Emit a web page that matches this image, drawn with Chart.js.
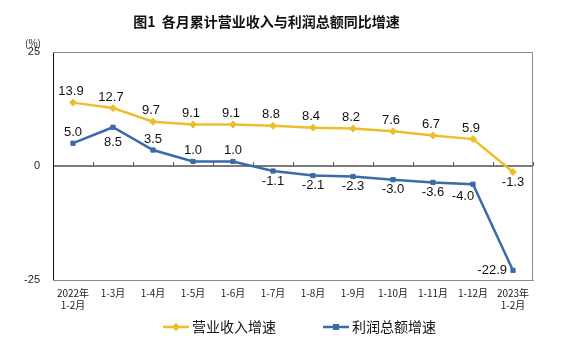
<!DOCTYPE html>
<html lang="zh">
<head>
    <meta charset="UTF-8">
    <title>各月累计营业收入与利润总额同比增速</title>
    <script src="https://cdn.jsdelivr.net/npm/chart.js"></script>
    <style>
        html, body { margin: 0; padding: 0; background: #fff; }
        #wrap { width: 574px; height: 349px; }
    </style>
</head>
<body>
    <div id="wrap"><canvas id="growthChart"></canvas></div>

    <script>
        // months (cumulative periods)
        const months = [
            ['2022年', '1-2月'], '1-3月', '1-4月', '1-5月', '1-6月', '1-7月',
            '1-8月', '1-9月', '1-10月', '1-11月', '1-12月', ['2023年', '1-2月']
        ];
        // 营业收入增速 (%)
        const revenueGrowth = [13.9, 12.7, 9.7, 9.1, 9.1, 8.8, 8.4, 8.2, 7.6, 6.7, 5.9, -1.3];
        // 利润总额增速 (%)
        const profitGrowth = [5.0, 8.5, 3.5, 1.0, 1.0, -1.1, -2.1, -2.3, -3.0, -3.6, -4.0, -22.9];
        const yTicks = [-25, 0, 25];

        // where each value label sits relative to its point
        const revenueLabelPos = ['up', 'up', 'up', 'up', 'up', 'up', 'up', 'up', 'up', 'up', 'up', 'down'];
        const profitLabelPos = ['up', 'down2', 'up', 'up', 'up', 'down', 'down', 'down', 'down', 'down', 'downleft', 'left'];

        const YELLOW = '#EDBE2C';
        const BLUE = '#3A6BA8';
        const NUM_FONT = '13px "Liberation Sans", Arial, sans-serif';
        const CJK = '"Noto Sans CJK SC", sans-serif';

        // value labels, frame, zero-line ticks, unit and legend
        const decorations = {
            id: 'decorations',
            afterDatasetsDraw(chart) {
                const ctx = chart.ctx;
                const area = chart.chartArea;
                const x = chart.scales.x;
                const y = chart.scales.y;
                const y0 = y.getPixelForValue(0);

                ctx.save();
                // frame: grey top/right, dark left
                ctx.strokeStyle = '#8a8a8a';
                ctx.lineWidth = 1;
                ctx.beginPath();
                ctx.moveTo(area.left, area.top + 0.5);
                ctx.lineTo(area.right - 0.5, area.top + 0.5);
                ctx.lineTo(area.right - 0.5, area.bottom);
                ctx.stroke();

                // small tick marks on the zero line between months
                ctx.strokeStyle = '#555';
                for (let i = 1; i <= months.length; i++) {
                    const px = i < months.length
                        ? (x.getPixelForTick(i - 1) + x.getPixelForTick(i)) / 2
                        : area.right;
                    ctx.beginPath();
                    ctx.moveTo(Math.round(px) + 0.5, y0 - 4);
                    ctx.lineTo(Math.round(px) + 0.5, y0);
                    ctx.stroke();
                }

                // value labels
                ctx.font = NUM_FONT;
                ctx.fillStyle = '#111';
                ctx.textBaseline = 'middle';
                const drawLabels = (dsIndex, values, pos) => {
                    const meta = chart.getDatasetMeta(dsIndex);
                    meta.data.forEach((pt, i) => {
                        let lx = pt.x, ly = pt.y;
                        ctx.textAlign = 'center';
                        switch (pos[i]) {
                            case 'up': lx -= dsIndex === 0 ? 2 : 0; ly -= 11; break;
                            case 'down': ly += 10; break;
                            case 'down2': ly += 15; break;
                            case 'downleft': lx -= 10; ly += 12; break;
                            case 'left': ctx.textAlign = 'right'; lx -= 6; break;
                        }
                        ctx.fillText(values[i].toFixed(1), lx, ly);
                    });
                };
                drawLabels(0, revenueGrowth, revenueLabelPos);
                drawLabels(1, profitGrowth, profitLabelPos);

                // unit above the axis
                ctx.font = '10px ' + CJK;
                ctx.textAlign = 'center';
                ctx.fillStyle = '#222';
                ctx.fillText('(%)', 33, 43);

                // legend
                const legendY = 327;
                const items = [
                    { label: '营业收入增速', color: YELLOW, x: 163, style: 'rectRot' },
                    { label: '利润总额增速', color: BLUE, x: 323, style: 'rect' }
                ];
                items.forEach(it => {
                    ctx.strokeStyle = it.color;
                    ctx.lineWidth = 2.5;
                    ctx.beginPath();
                    ctx.moveTo(it.x, legendY);
                    ctx.lineTo(it.x + 26, legendY);
                    ctx.stroke();
                    Chart.helpers.drawPoint(ctx, {
                        pointStyle: it.style, radius: 2.5, borderWidth: 1
                    }, it.x + 13, legendY);
                    ctx.fillStyle = it.color;
                    ctx.fill();
                    ctx.font = '14px ' + CJK;
                    ctx.fillStyle = '#111';
                    ctx.textAlign = 'left';
                    ctx.fillText(it.label, it.x + 29, legendY);
                });
                ctx.restore();
            }
        };

        new Chart(document.getElementById('growthChart'), {
            type: 'line',
            data: {
                labels: months,
                datasets: [
                    {
                        label: '营业收入增速',
                        data: revenueGrowth,
                        borderColor: YELLOW,
                        backgroundColor: YELLOW,
                        borderWidth: 2.5,
                        pointStyle: 'rectRot',
                        pointRadius: 3.5,
                        pointBorderWidth: 1,
                        tension: 0
                    },
                    {
                        label: '利润总额增速',
                        data: profitGrowth,
                        borderColor: BLUE,
                        backgroundColor: BLUE,
                        borderWidth: 2.5,
                        pointStyle: 'rect',
                        pointRadius: 3,
                        pointBorderWidth: 1,
                        tension: 0
                    }
                ]
            },
            options: {
                responsive: true,
                maintainAspectRatio: false,
                animation: false,
                events: [],
                layout: { padding: { left: 0, right: 41, top: 0, bottom: 0 } },
                plugins: {
                    legend: { display: false },
                    tooltip: { enabled: false },
                    title: {
                        display: true,
                        text: '图1  各月累计营业收入与利润总额同比增速',
                        color: '#111',
                        font: { family: CJK, size: 14, weight: 'bold' },
                        padding: { top: 13, bottom: 22.2 }
                    }
                },
                scales: {
                    x: {
                        offset: true,
                        grid: { display: false, drawTicks: false },
                        border: { display: true, color: '#8a8a8a', width: 1 },
                        ticks: {
                            color: '#222',
                            font: { family: CJK, size: 10 },
                            padding: 7,
                            maxRotation: 0,
                            autoSkip: false
                        },
                        afterFit(scale) { scale.height = 69; }
                    },
                    y: {
                        min: -25,
                        max: 25,
                        afterBuildTicks(scale) { scale.ticks = yTicks.map(v => ({ value: v })); },
                        grid: {
                            drawTicks: false,
                            color: c => c.tick && c.tick.value === 0 ? '#7a7a7a' : 'rgba(0,0,0,0)',
                            lineWidth: c => c.tick && c.tick.value === 0 ? 2 : 0
                        },
                        border: { display: true, color: '#111', width: 1 },
                        ticks: {
                            color: '#222',
                            font: { family: '"Liberation Sans", Arial, sans-serif', size: 11 },
                            padding: 13
                        },
                        afterFit(scale) { scale.width = 53; }
                    }
                }
            },
            plugins: [decorations]
        });
    </script>
</body>
</html>
